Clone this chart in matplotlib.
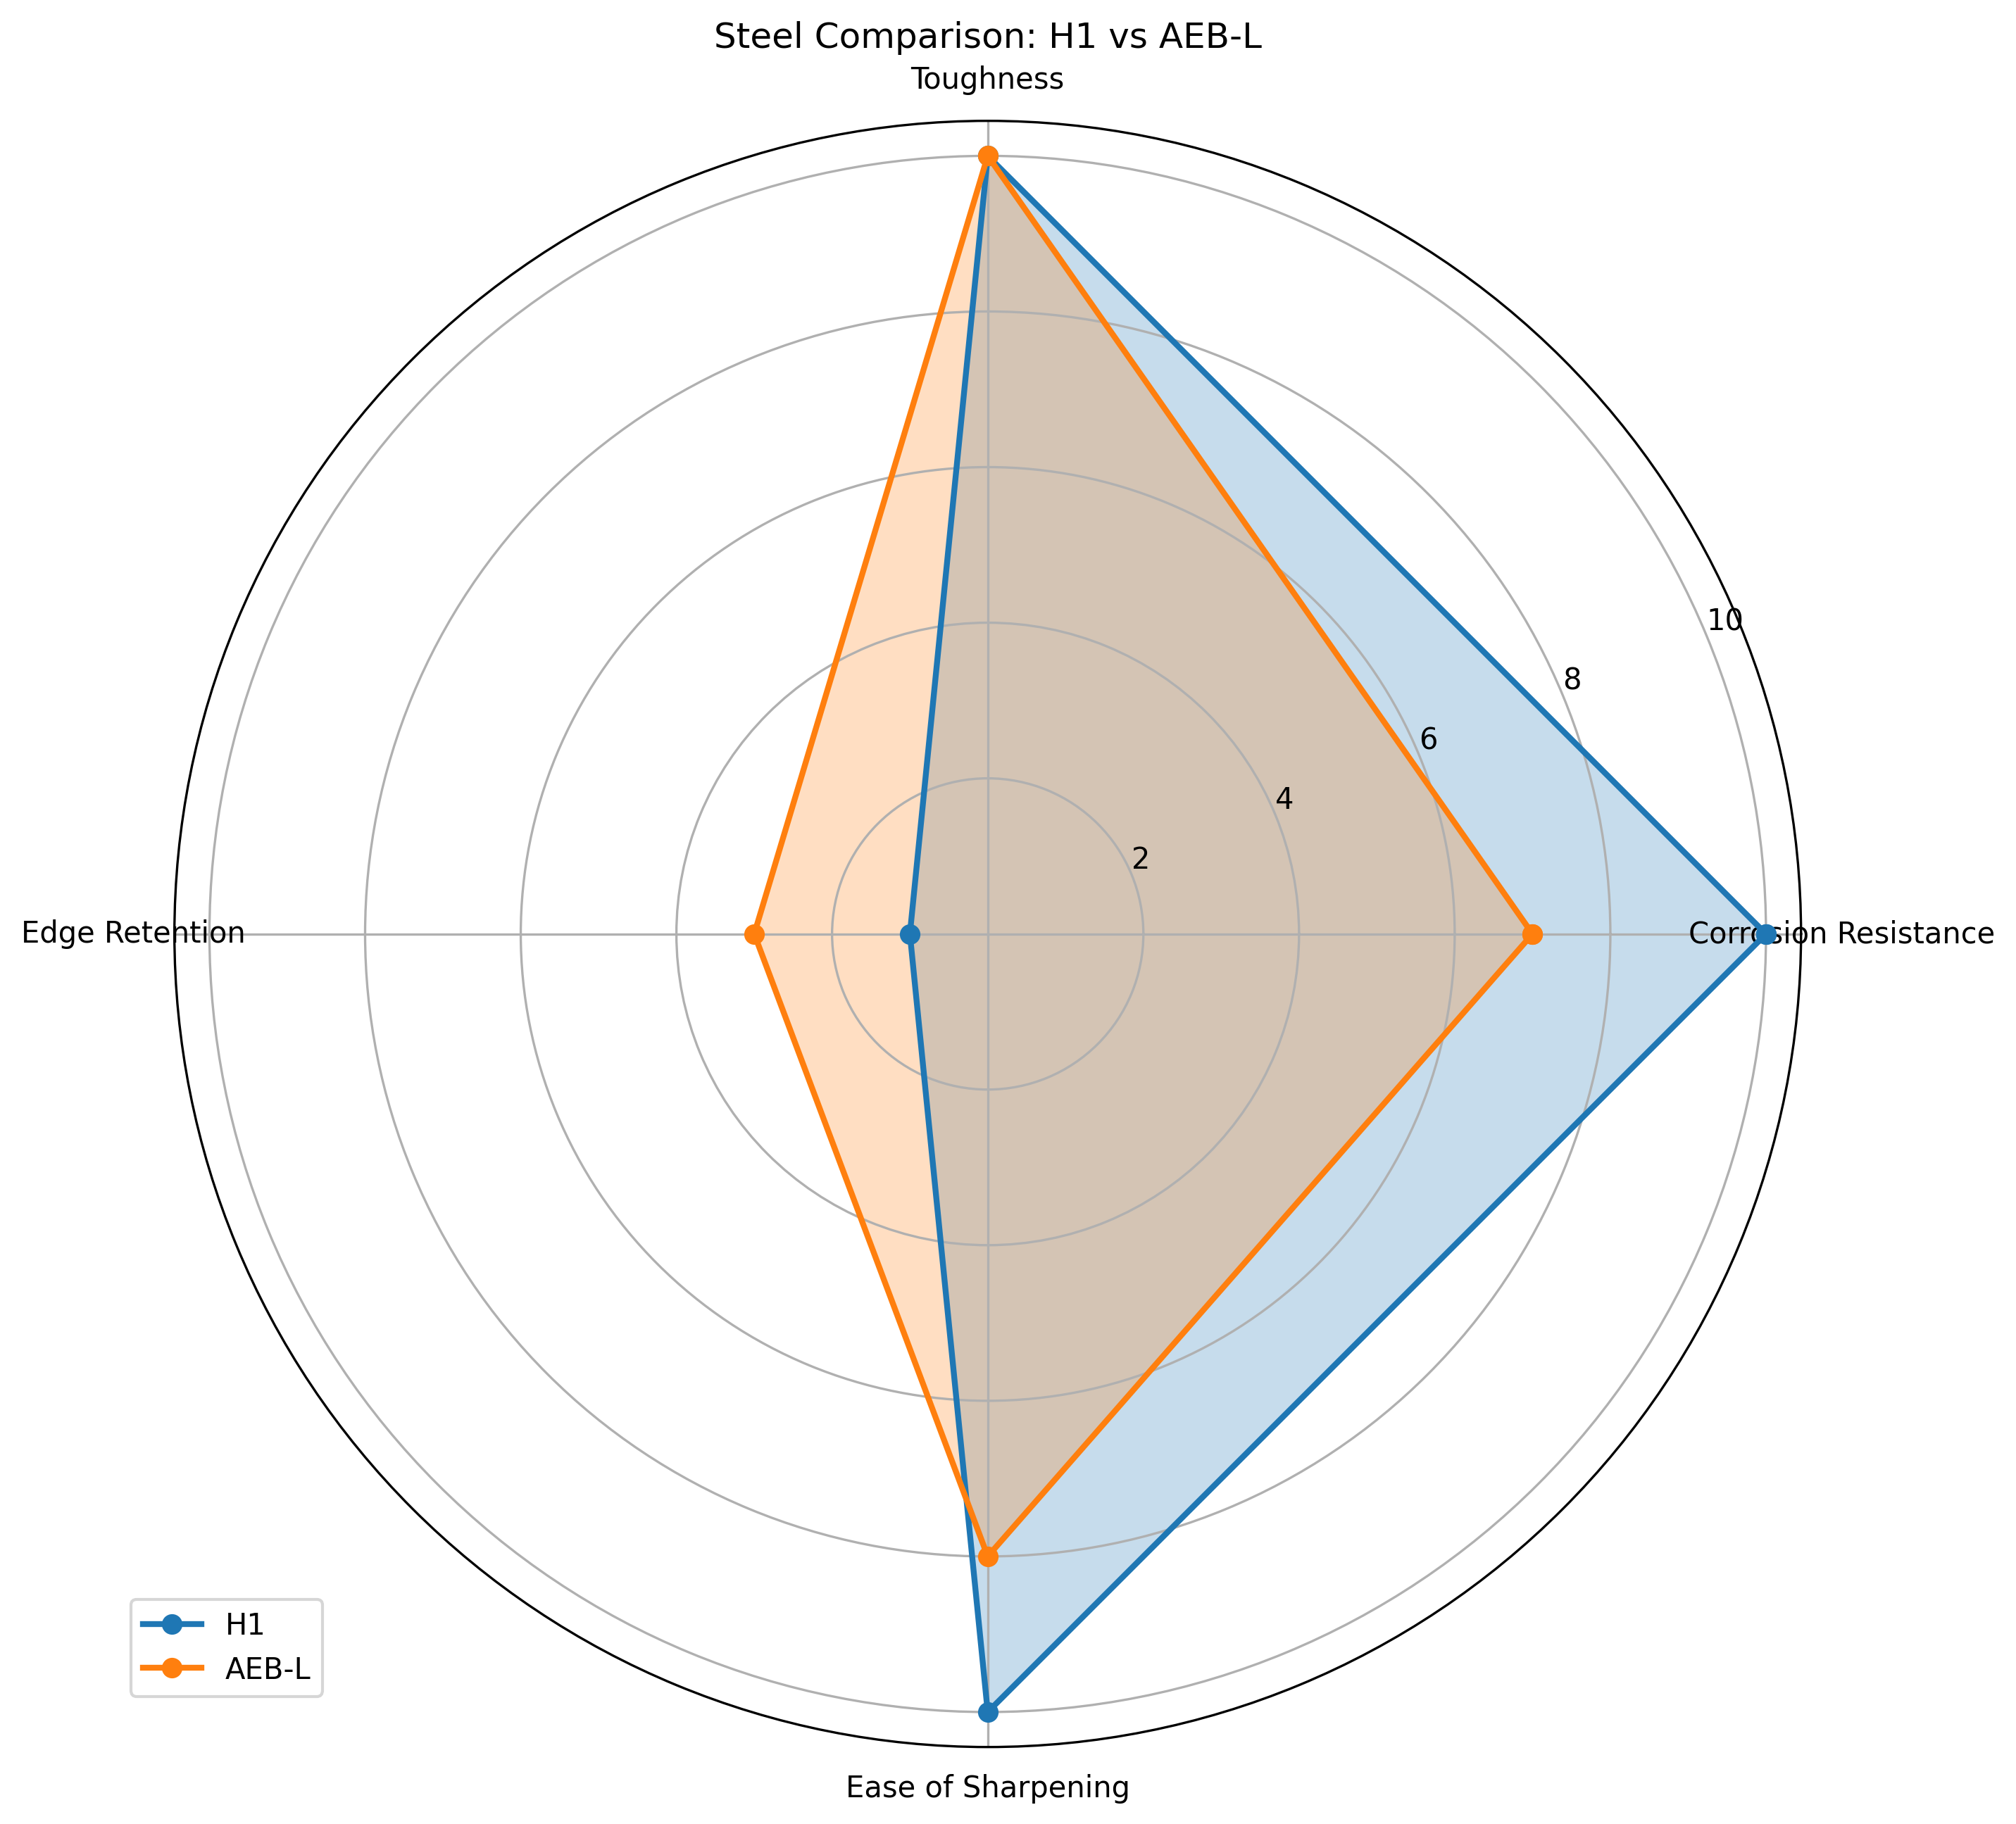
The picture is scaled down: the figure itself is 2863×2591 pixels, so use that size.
import numpy as np
import matplotlib
matplotlib.use("Agg")
import matplotlib.pyplot as plt

categories = ["Corrosion Resistance", "Toughness", "Edge Retention", "Ease of Sharpening"]
h1_values = [10, 10, 1, 10]
aebl_values = [7, 10, 3, 8]
series_names = ["H1", "AEB-L"]

n = len(categories)
angles = np.linspace(0, 2 * np.pi, n, endpoint=False).tolist()
angles_closed = angles + angles[:1]

fig, ax = plt.subplots(figsize=(10, 10), subplot_kw=dict(polar=True))

for name, vals in zip(series_names, [h1_values, aebl_values]):
    v = list(vals) + [vals[0]]
    ax.plot(angles_closed, v, 'o-', linewidth=2, label=name)
    ax.fill(angles_closed, v, alpha=0.25)

ax.set_thetagrids(np.degrees(angles), categories)
ax.set_title("Steel Comparison: H1 vs AEB-L")
ax.legend(loc="upper right", bbox_to_anchor=(0.1, 0.1))

fig.savefig("out.png", dpi=300, bbox_inches="tight")
